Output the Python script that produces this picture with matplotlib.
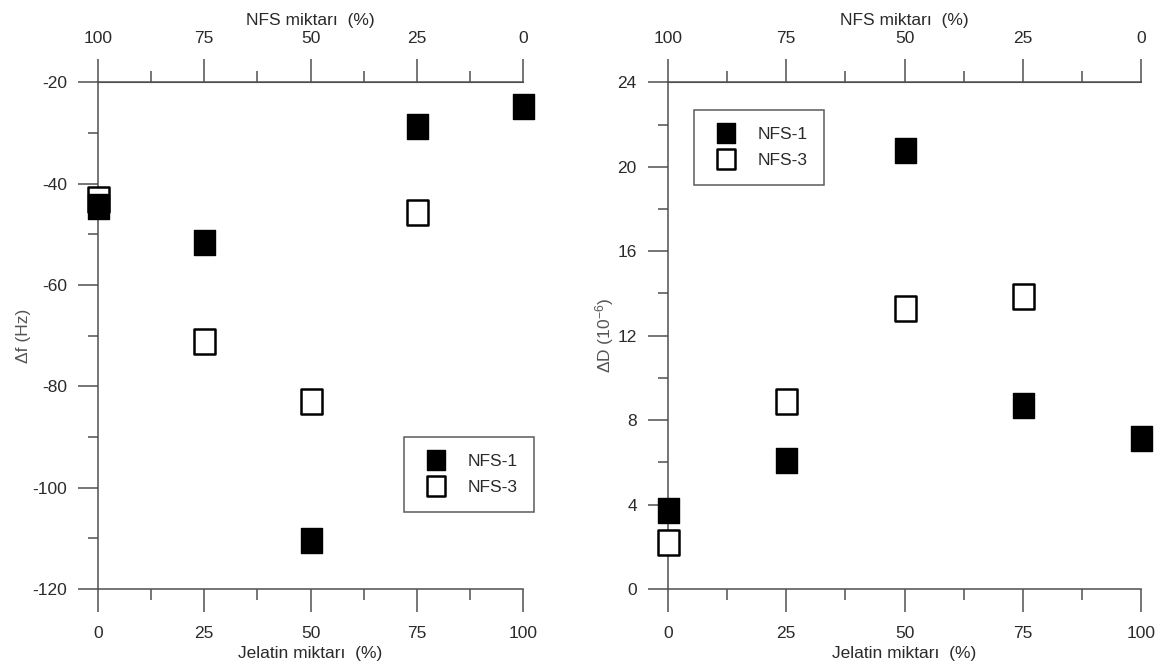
import matplotlib
matplotlib.use("Agg")
import matplotlib.pyplot as plt
from matplotlib.ticker import MultipleLocator
from matplotlib.path import Path

plt.rcParams['font.family'] = ['Liberation Sans', 'DejaVu Sans']
plt.rcParams['mathtext.fontset'] = 'custom'
plt.rcParams['mathtext.rm'] = 'Liberation Sans'
plt.rcParams['mathtext.default'] = 'regular'
plt.rcParams['axes.unicode_minus'] = False

# data
jelatin = [0, 25, 50, 75, 100]
df_nfs1 = [-44.5, -51.6, -110.3, -28.7, -24.7]
df_nfs3 = [-43.0, -71.0, -82.8, -45.5]
x_nfs3_df = [0, 25, 50, 75]

dd_nfs1 = [3.75, 6.1, 20.8, 8.7, 7.15]
dd_nfs3 = [2.23, 8.9, 13.3, 13.9]
x_nfs3_dd = [0, 25, 50, 75]

nfs_ticks = [0, 25, 50, 75, 100]
ink = '#2a2a2a'
axc = '#505050'
fs = 12.5

# slightly tall square, like the original
box = Path([(-0.84, -1), (0.84, -1), (0.84, 1), (-0.84, 1), (-0.84, -1)],
           [Path.MOVETO, Path.LINETO, Path.LINETO, Path.LINETO, Path.CLOSEPOLY])

fig = plt.figure(figsize=(11.63, 6.71), dpi=100)
ax1 = fig.add_axes([0.0843, 0.1222, 0.3654, 0.7551])
ax2 = fig.add_axes([0.5744, 0.1222, 0.4067, 0.7551])


def style(ax, ylim, ymaj, ymin, ylabel):
    ax.set_xlim(0, 100)
    ax.set_ylim(*ylim)
    ax.xaxis.set_major_locator(MultipleLocator(25))
    ax.xaxis.set_minor_locator(MultipleLocator(12.5))
    ax.yaxis.set_major_locator(MultipleLocator(ymaj))
    ax.yaxis.set_minor_locator(MultipleLocator(ymin))
    ax.spines['right'].set_visible(False)
    for s in ['left', 'bottom', 'top']:
        ax.spines[s].set_color(axc)
        ax.spines[s].set_linewidth(1.1)
    ax.tick_params(axis='x', which='major', length=16.5, width=1.1, color=axc,
                   labelsize=fs, labelcolor=ink, pad=10)
    ax.tick_params(axis='x', which='minor', length=8, width=1.1, color=axc)
    ax.tick_params(axis='y', which='major', length=14.5, width=1.1, color=axc,
                   labelsize=fs, labelcolor=ink, pad=8)
    ax.tick_params(axis='y', which='minor', length=7.5, width=1.1, color=axc)
    ax.set_xlabel('Jelatin miktarı  (%)', fontsize=fs, color=ink, labelpad=4)
    ax.set_ylabel(ylabel, fontsize=fs, color='#555555', labelpad=1)

    top = ax.secondary_xaxis('top', functions=(lambda x: 100 - x, lambda x: 100 - x))
    top.set_xticks(nfs_ticks)
    top.xaxis.set_minor_locator(MultipleLocator(12.5))
    top.spines['top'].set_color(axc)
    top.tick_params(which='major', length=16.5, width=1.1, color=axc,
                    labelsize=fs, labelcolor=ink, pad=10)
    top.tick_params(which='minor', length=8, width=1.1, color=axc)
    top.set_xlabel('NFS miktarı  (%)', fontsize=fs, color=ink, labelpad=4)


style(ax1, (-120, -20), 20, 10, 'Δf (Hz)')
style(ax2, (0, 24), 4, 2, 'ΔD (10$^{-6}$)')

for ax, x3, y3, y1 in [(ax1, x_nfs3_df, df_nfs3, df_nfs1),
                       (ax2, x_nfs3_dd, dd_nfs3, dd_nfs1)]:
    ax.plot(x3, y3, marker=box, ms=18, mfc='white', mec='black', mew=1.8,
            ls='none', label='NFS-3', clip_on=False, zorder=3)
    ax.plot(jelatin, y1, marker=box, ms=18, mfc='black', mec='black',
            ls='none', label='NFS-1', clip_on=False, zorder=4)

# legend upper-left corners in figure pixels
for ax, px, py in [(ax1, 404, 437), (ax2, 694, 110)]:
    h, l = ax.get_legend_handles_labels()
    leg = ax.legend(h[::-1], l[::-1], loc='upper left',
                    bbox_to_anchor=(px / 1163, 1 - py / 671),
                    bbox_transform=fig.transFigure,
                    fancybox=False, edgecolor='#333333', fontsize=fs,
                    borderpad=0.95, handletextpad=0.9, labelspacing=0.65,
                    markerscale=0.82, borderaxespad=0, handlelength=1.8)
    leg.get_frame().set_linewidth(1.1)
    for t in leg.get_texts():
        t.set_color(ink)

fig.savefig('out.png', dpi=100)
